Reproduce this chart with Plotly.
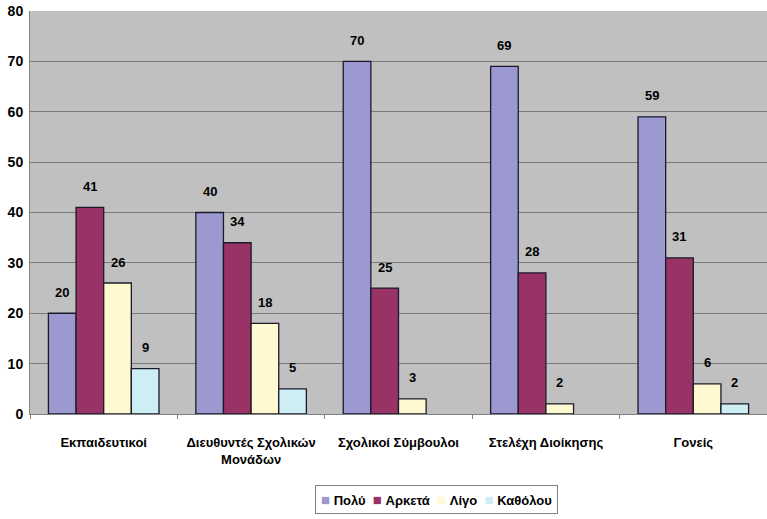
import plotly.graph_objects as go

categories = ["Εκπαιδευτικοί", "Διευθυντές Σχολικών<br>Μονάδων", "Σχολικοί Σύμβουλοι",
              "Στελέχη Διοίκησης", "Γονείς"]
series_names = ["Πολύ", "Αρκετά", "Λίγο", "Καθόλου"]
polu = [20, 40, 70, 69, 59]
arketa = [41, 34, 25, 28, 31]
ligo = [26, 18, 3, 2, 6]
katholou = [9, 5, None, None, 2]
y_ticks = [0, 10, 20, 30, 40, 50, 60, 70, 80]

colors = ["#9b99d0", "#993366", "#fff9d2", "#cdeef2"]
FONT = "Liberation Sans, Arial, sans-serif"
BARGAP = 0.25

all_series = [polu, arketa, ligo, katholou]
n_series = len(all_series)
bar_w = (1 - BARGAP) / n_series

fig = go.Figure()
for name, vals, col in zip(series_names, all_series, colors):
    fig.add_trace(go.Bar(
        x=categories, y=vals, name=name,
        marker=dict(color=col, line=dict(color="#1a1a2a", width=1.3)),
        showlegend=False,
    ))

annotations = []
for k, vals in enumerate(all_series):
    for i, v in enumerate(vals):
        if v is None:
            continue
        annotations.append(dict(
            x=i + (k - (n_series - 1) / 2) * bar_w, y=v, xref="x", yref="y",
            text=f"<b>{v}</b>", showarrow=False, yanchor="middle", yshift=21,
            font=dict(family=FONT, size=13, color="black"),
        ))

legend_text = "  ".join(
    f'<span style="color:{c};font-size:15px">■</span> <b>{n}</b>'
    for n, c in zip(series_names, colors)
)
annotations.append(dict(
    x=0.551, y=-0.213, xref="paper", yref="paper",
    text=legend_text, showarrow=False, xanchor="center", yanchor="middle",
    bordercolor="#808080", borderwidth=1, borderpad=5, bgcolor="white",
    font=dict(family=FONT, size=13, color="black"),
))

fig.update_layout(
    width=767, height=519,
    margin=dict(l=30, r=0, t=11, b=105),
    paper_bgcolor="white", plot_bgcolor="#c0c0c0",
    barmode="group", bargap=BARGAP, bargroupgap=0,
    font=dict(family=FONT, size=13, color="black"),
    showlegend=False,
    annotations=annotations,
)
fig.update_yaxes(range=[0, 80], tickvals=y_ticks, ticktext=[f"<b>{t}</b>" for t in y_ticks],
                 showgrid=True, gridcolor="#7a7a7a",
                 gridwidth=1, showline=True, linecolor="#808080", zeroline=False,
                 ticks="", automargin=False, ticklabelstandoff=3,
                 tickfont=dict(family=FONT, size=14, color="black"))
fig.update_xaxes(showline=True, linecolor="#808080", ticks="outside", ticklen=4,
                 tickcolor="#808080", tickson="boundaries", automargin=False,
                 tickvals=categories,
                 ticktext=[f"<b>{c}</b>".replace("<br>", "</b><br><b>") for c in categories],
                 ticklabelstandoff=16,
                 tickfont=dict(family=FONT, size=13, color="black"))

fig.write_html("out.html", config={"displayModeBar": False},
               post_script="document.body.style.margin='0';document.body.style.overflow='hidden';")
